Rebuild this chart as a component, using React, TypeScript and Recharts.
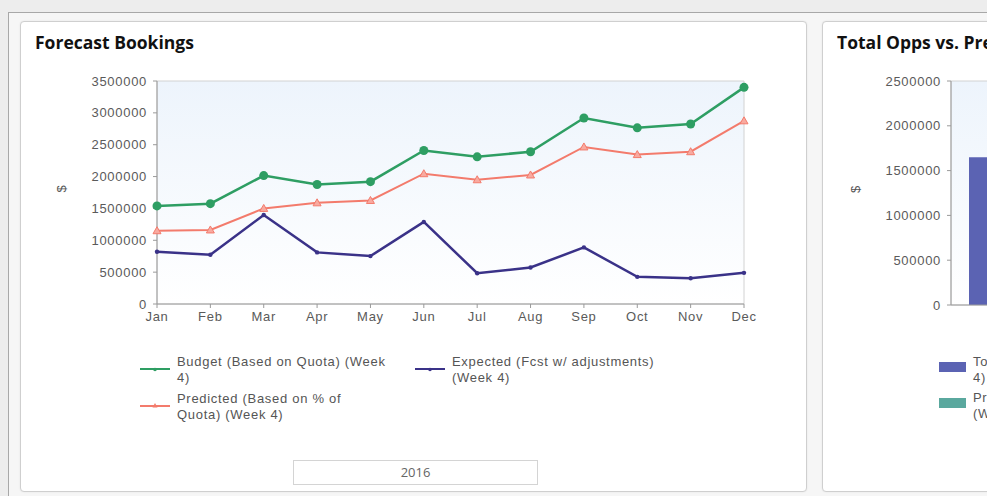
import React from "react";
import { LineChart, Line, XAxis, YAxis, ReferenceArea, BarChart, Bar } from "recharts";

/* ---------------- DATA ---------------- */
const MONTHS = ["Jan", "Feb", "Mar", "Apr", "May", "Jun", "Jul", "Aug", "Sep", "Oct", "Nov", "Dec"];
const BUDGET = [1540000, 1575000, 2015000, 1875000, 1920000, 2410000, 2310000, 2390000, 2920000, 2765000, 2825000, 3400000];
const PREDICTED = [1150000, 1162000, 1500000, 1588000, 1625000, 2045000, 1950000, 2025000, 2465000, 2345000, 2390000, 2875000];
const EXPECTED = [820000, 773000, 1398000, 810000, 752000, 1288000, 483000, 573000, 888000, 426000, 405000, 489000];
const BOOKING_TICKS = [0, 500000, 1000000, 1500000, 2000000, 2500000, 3000000, 3500000];

const OPPS_CATEGORIES = ["2016"];
const TOTAL_OPPS = [1650000];
const PREDICTED_OPPS = [1250000];
const OPPS_TICKS = [0, 500000, 1000000, 1500000, 2000000, 2500000];

const YEAR = "2016";

const GREEN = "#2e9e63";
const SALMON = "#f37b6c";
const NAVY = "#3a3288";
const BAR_BLUE = "#5b63b3";
const TEAL = "#5aa89e";

const bookings = MONTHS.map((m, i) => ({
  month: m,
  budget: BUDGET[i],
  predicted: PREDICTED[i],
  expected: EXPECTED[i],
}));

const opps = OPPS_CATEGORIES.map((c, i) => ({
  year: c,
  total: TOTAL_OPPS[i],
  predicted: PREDICTED_OPPS[i],
}));

const LEGEND_LEFT = [
  { lines: ["Budget (Based on Quota) (Week", "4)"], color: GREEN, marker: "dot", x: 140, y: 354 },
  { lines: ["Expected (Fcst w/ adjustments)", "(Week 4)"], color: NAVY, marker: "dot", x: 415, y: 354 },
  { lines: ["Predicted (Based on % of", "Quota) (Week 4)"], color: SALMON, marker: "tri", x: 140, y: 391 },
];

const LEGEND_RIGHT = [
  { lines: ["Total Opps (Week", "4)"], color: BAR_BLUE, y: 354 },
  { lines: ["Predicted Opps", "(Week 4)"], color: TEAL, y: 390 },
];

const FONT = "'Liberation Sans', Arial, sans-serif";
const TICK = { fontSize: 13, fill: "#5a5a5a" };

/* ---------------- MARKERS ---------------- */
function TriangleDot(props: any) {
  const { cx, cy, index } = props;
  return (
    <path
      key={`tri-${index}`}
      d={`M${cx},${cy - 4} L${cx + 4},${cy + 3} L${cx - 4},${cy + 3} Z`}
      fill="#f8aaa0"
      stroke={SALMON}
      strokeWidth={1}
    />
  );
}

function LegendIcon({ color, marker }: { color: string; marker: string }) {
  return (
    <svg width={30} height={10} style={{ position: "absolute", left: 0, top: 10 }}>
      <line x1={0} y1={5} x2={30} y2={5} stroke={color} strokeWidth={2} />
      {marker === "tri" ? (
        <path d="M15,2 L17.5,6.5 L12.5,6.5 Z" fill={color} />
      ) : (
        <circle cx={15} cy={5.5} r={1.8} fill={color} />
      )}
    </svg>
  );
}

const titleStyle: React.CSSProperties = {
  position: "absolute",
  top: 30,
  fontFamily: "'Open Sans', sans-serif",
  fontWeight: 700,
  fontSize: 17.5,
  lineHeight: "24px",
  letterSpacing: 0,
  color: "#111",
  whiteSpace: "nowrap",
};

const panelStyle: React.CSSProperties = {
  position: "absolute",
  top: 21,
  width: 785,
  height: 469,
  border: "1px solid #cfcfcf",
  borderRadius: 4,
  background: "#fff",
  boxShadow: "0 0 2px rgba(0,0,0,0.08)",
};

export default function App() {
  return (
    <div
      style={{
        position: "fixed",
        left: 0,
        top: 0,
        width: 987,
        height: 496,
        overflow: "hidden",
        background: "#ededed",
        fontFamily: FONT,
        letterSpacing: "0.7px",
      }}
    >
      {/* outer frame */}
      <div
        style={{
          position: "absolute",
          left: 8,
          top: 12,
          width: 1200,
          height: 600,
          borderTop: "1px solid #a8a8a8",
          borderLeft: "1px solid #a8a8a8",
          background: "#f6f6f6",
        }}
      />

      {/* ================= LEFT PANEL ================= */}
      <div style={{ ...panelStyle, left: 20 }} />
      <div style={{ ...titleStyle, left: 35 }}>Forecast Bookings</div>

      <div style={{ position: "absolute", left: 0, top: 0 }}>
        <LineChart width={807} height={340} data={bookings} margin={{ top: 81, right: 63, bottom: 6, left: 97 }}>
          <defs>
            <linearGradient id="plotBg" x1="0" y1="0" x2="0" y2="1">
              <stop offset="0%" stopColor="#edf4fc" />
              <stop offset="100%" stopColor="#ffffff" />
            </linearGradient>
          </defs>
          <ReferenceArea
            x1="Jan"
            x2="Dec"
            y1={0}
            y2={3500000}
            fill="url(#plotBg)"
            fillOpacity={1}
            stroke="#d2d2d2"
            strokeWidth={1}
          />
          <XAxis
            dataKey="month"
            stroke="#9a9a9a"
            tick={TICK}
            tickSize={4}
            tickMargin={4}
            height={30}
            interval={0}
          />
          <YAxis
            domain={[0, 3500000]}
            ticks={BOOKING_TICKS}
            stroke="#9a9a9a"
            tick={TICK}
            tickSize={4}
            tickMargin={6}
            width={60}
            interval={0}
            label={{ value: "$", angle: -90, position: "insideLeft", offset: -36, fill: "#555", fontSize: 13 }}
          />
          <Line
            dataKey="budget"
            name="Budget (Based on Quota) (Week 4)"
            stroke={GREEN}
            strokeWidth={2.5}
            dot={{ r: 4.5, fill: GREEN, stroke: GREEN, strokeWidth: 0 }}
            isAnimationActive={false}
          />
          <Line
            dataKey="predicted"
            name="Predicted (Based on % of Quota) (Week 4)"
            stroke={SALMON}
            strokeWidth={2}
            dot={TriangleDot}
            isAnimationActive={false}
          />
          <Line
            dataKey="expected"
            name="Expected (Fcst w/ adjustments) (Week 4)"
            stroke={NAVY}
            strokeWidth={2.5}
            dot={{ r: 2.2, fill: NAVY, stroke: NAVY, strokeWidth: 0 }}
            isAnimationActive={false}
          />
        </LineChart>
      </div>

      {/* legend */}
      {LEGEND_LEFT.map((item) => (
        <div
          key={item.lines[0]}
          style={{ position: "absolute", left: item.x, top: item.y, paddingLeft: 37, fontSize: 13, lineHeight: "16px", color: "#555", whiteSpace: "nowrap" }}
        >
          <LegendIcon color={item.color} marker={item.marker} />
          {item.lines.map((l) => (
            <div key={l}>{l}</div>
          ))}
        </div>
      ))}

      {/* year box */}
      <div
        style={{
          position: "absolute",
          left: 293,
          top: 460,
          width: 243,
          height: 23,
          border: "1px solid #d4d4d4",
          background: "#fff",
          textAlign: "center",
          lineHeight: "23px",
          fontFamily: "'Open Sans', sans-serif",
          letterSpacing: 0,
          fontSize: 13,
          color: "#666",
        }}
      >
        {YEAR}
      </div>

      {/* ================= RIGHT PANEL ================= */}
      <div style={{ ...panelStyle, left: 822 }} />
      <div style={{ ...titleStyle, left: 837 }}>Total Opps vs. Predicted</div>

      <div style={{ position: "absolute", left: 780, top: 0 }}>
        <BarChart
          width={800}
          height={340}
          data={opps}
          margin={{ top: 81, right: 100, bottom: 5, left: 111 }}
          barCategoryGap={18}
          barGap={4}
        >
          <defs>
            <linearGradient id="plotBg2" x1="0" y1="0" x2="0" y2="1">
              <stop offset="0%" stopColor="#edf4fc" />
              <stop offset="100%" stopColor="#ffffff" />
            </linearGradient>
          </defs>
          <ReferenceArea
            y1={0}
            y2={2500000}
            fill="url(#plotBg2)"
            fillOpacity={1}
            stroke="#d2d2d2"
            strokeWidth={1}
          />
          <XAxis dataKey="year" stroke="#9a9a9a" tick={false} tickSize={0} height={30} />
          <YAxis
            domain={[0, 2500000]}
            ticks={OPPS_TICKS}
            stroke="#9a9a9a"
            tick={TICK}
            tickSize={4}
            tickMargin={6}
            width={60}
            interval={0}
            label={{ value: "$", angle: -90, position: "insideLeft", offset: -36, fill: "#555", fontSize: 13 }}
          />
          <Bar dataKey="total" name="Total Opps (Week 4)" fill={BAR_BLUE} isAnimationActive={false} />
          <Bar dataKey="predicted" name="Predicted Opps (Week 4)" fill={TEAL} isAnimationActive={false} />
        </BarChart>
      </div>

      {LEGEND_RIGHT.map((item) => (
        <div
          key={item.lines[0]}
          style={{ position: "absolute", left: 939, top: item.y, paddingLeft: 34, fontSize: 13, lineHeight: "16px", color: "#555", whiteSpace: "nowrap" }}
        >
          <div style={{ position: "absolute", left: 0, top: 8, width: 27, height: 10, background: item.color }} />
          {item.lines.map((l) => (
            <div key={l}>{l}</div>
          ))}
        </div>
      ))}
    </div>
  );
}
